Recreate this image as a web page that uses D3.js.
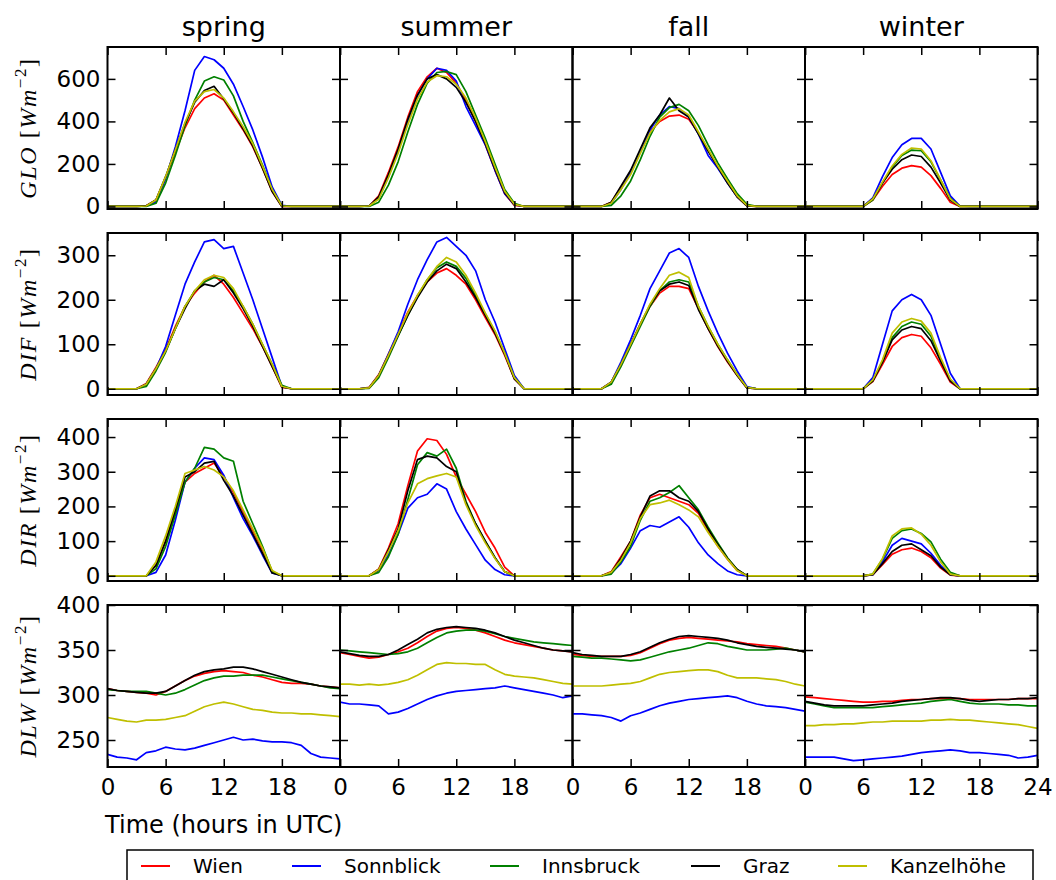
<!DOCTYPE html>
<html><head><meta charset="utf-8">
<script src="https://cdn.jsdelivr.net/npm/d3@7"></script>
<style>body{margin:0;background:#fff}svg{display:block}</style>
</head><body><svg id="c" width="1056" height="880"></svg>
<script>
const seasons = ["spring","summer","fall","winter"];
const stations = ["Wien","Sonnblick","Innsbruck","Graz","Kanzelhöhe"];
const stationColors = ["#ff0000","#0000ff","#008000","#000000","#bfbf00"];
const hours = [0,1,2,3,4,5,6,7,8,9,10,11,12,13,14,15,16,17,18,19,20,21,22,23,24];
const xTickValues = [0,6,12,18,24];
const variables = ["GLO","DIF","DIR","DLW"];
const yDomains = [[-12,750],[-14,350],[-15,452],[220,400]];
const yTickValues = [[0,200,400,600],[0,100,200,300],[0,100,200,300,400],[250,300,350,400]];

// order of each list: Wien, Sonnblick, Innsbruck, Graz, Kanzelhöhe
const GLO_spring = [
 [0,0,0,0,3,30,135,255,370,460,510,530,500,430,360,280,180,70,0,0,0,0,0,0,0],
 [0,0,0,0,2,20,130,280,450,640,705,690,650,575,470,360,232,92,5,0,0,0,0,0,0],
 [0,0,0,0,0,15,110,240,380,500,590,610,595,520,400,300,195,80,3,0,0,0,0,0,0],
 [0,0,0,0,3,30,140,265,390,490,545,565,505,440,365,285,180,70,0,0,0,0,0,0,0],
 [0,0,0,0,2,30,140,265,395,495,540,550,510,445,375,295,190,80,2,0,0,0,0,0,0]];
const GLO_summer = [
 [0,0,0,2,50,160,280,420,540,610,650,630,580,500,400,290,170,60,5,0,0,0,0,0,0],
 [0,0,0,2,40,140,260,400,520,600,650,640,590,470,380,290,170,60,8,0,0,0,0,0,0],
 [0,0,0,0,20,100,210,350,480,580,630,635,620,540,430,320,200,80,15,0,0,0,0,0,0],
 [0,0,0,2,45,150,270,410,525,600,620,600,560,490,400,295,175,65,8,0,0,0,0,0,0],
 [0,0,0,2,35,135,250,385,505,585,615,610,575,510,415,305,185,72,10,0,0,0,0,0,0]];
const GLO_fall = [
 [0,0,0,0,20,90,165,260,350,400,425,430,410,345,265,185,115,45,3,0,0,0,0,0,0],
 [0,0,0,0,15,80,160,260,360,430,470,460,420,340,240,180,110,45,5,0,0,0,0,0,0],
 [0,0,0,0,5,50,120,220,330,420,465,480,450,380,290,205,130,60,10,0,0,0,0,0,0],
 [0,0,0,0,20,95,170,270,370,430,510,450,420,340,260,185,110,45,3,0,0,0,0,0,0],
 [0,0,0,0,15,80,150,250,345,405,445,460,430,350,270,190,120,50,5,0,0,0,0,0,0]];
const GLO_winter = [
 [0,0,0,0,0,0,0,30,95,150,180,192,185,145,85,20,0,0,0,0,0,0,0,0,0],
 [0,0,0,0,0,0,0,40,140,230,290,320,320,270,160,50,2,0,0,0,0,0,0,0,0],
 [0,0,0,0,0,0,0,30,110,185,240,265,262,210,125,38,0,0,0,0,0,0,0,0,0],
 [0,0,0,0,0,0,0,35,110,175,220,242,235,185,110,30,0,0,0,0,0,0,0,0,0],
 [0,0,0,0,0,0,0,35,115,190,245,275,270,215,125,35,0,0,0,0,0,0,0,0,0]];
const DIF_spring = [
 [0,0,0,0,12,48,88,140,185,215,240,255,235,205,170,135,95,50,3,0,0,0,0,0,0],
 [0,0,0,0,10,45,95,165,235,285,330,335,315,320,260,200,135,70,5,0,0,0,0,0,0],
 [0,0,0,0,5,40,82,135,185,220,240,250,245,220,185,145,100,55,8,0,0,0,0,0,0],
 [0,0,0,0,10,45,85,135,180,220,235,230,245,215,180,140,95,50,4,0,0,0,0,0,0],
 [0,0,0,0,10,45,85,135,185,220,245,255,250,225,185,145,100,55,5,0,0,0,0,0,0]];
const DIF_summer = [
 [0,0,0,3,32,78,125,172,210,240,260,270,255,235,200,160,122,75,22,0,0,0,0,0,0],
 [0,0,0,2,30,78,128,190,245,290,330,340,320,300,265,200,150,90,30,0,0,0,0,0,0],
 [0,0,0,1,25,70,118,165,208,245,272,285,275,248,210,168,128,80,25,0,0,0,0,0,0],
 [0,0,0,2,30,75,120,165,205,240,265,280,270,240,205,165,125,78,22,0,0,0,0,0,0],
 [0,0,0,2,30,75,122,170,210,245,275,295,285,255,215,170,130,80,25,0,0,0,0,0,0]];
const DIF_fall = [
 [0,0,0,0,15,55,100,145,185,215,230,230,225,180,135,95,60,30,2,0,0,0,0,0,0],
 [0,0,0,0,15,60,110,165,225,265,305,315,295,230,175,125,80,40,5,0,0,0,0,0,0],
 [0,0,0,0,10,50,95,140,185,220,240,245,240,185,140,100,65,32,3,0,0,0,0,0,0],
 [0,0,0,0,15,55,100,145,188,220,235,240,232,178,135,96,62,30,2,0,0,0,0,0,0],
 [0,0,0,0,15,55,100,145,190,225,255,262,250,185,140,100,65,32,3,0,0,0,0,0,0]];
const DIF_winter = [
 [0,0,0,0,0,0,0,16,55,95,115,122,118,92,55,15,0,0,0,0,0,0,0,0,0],
 [0,0,0,0,0,0,0,25,100,175,200,212,200,165,100,35,0,0,0,0,0,0,0,0,0],
 [0,0,0,0,0,0,0,18,62,115,140,150,145,118,66,20,0,0,0,0,0,0,0,0,0],
 [0,0,0,0,0,0,0,18,60,110,132,140,135,108,62,18,0,0,0,0,0,0,0,0,0],
 [0,0,0,0,0,0,0,20,65,125,150,158,152,125,70,22,0,0,0,0,0,0,0,0,0]];
const DIR_spring = [
 [0,0,0,0,0,30,100,185,270,295,310,325,285,240,185,130,75,12,0,0,0,0,0,0,0],
 [0,0,0,0,0,10,60,160,270,310,340,335,290,225,165,115,60,8,0,0,0,0,0,0,0],
 [0,0,0,0,0,20,85,175,270,310,370,365,340,330,215,150,85,12,0,0,0,0,0,0,0],
 [0,0,0,0,0,30,100,190,285,300,325,330,275,230,175,120,65,8,0,0,0,0,0,0,0],
 [0,0,0,0,0,40,115,200,295,305,315,305,285,245,190,135,80,15,0,0,0,0,0,0,0]];
const DIR_summer = [
 [0,0,0,0,20,80,150,260,360,395,390,350,285,235,185,125,80,25,0,0,0,0,0,0,0],
 [0,0,0,0,15,60,120,195,225,235,265,250,185,135,90,45,18,3,0,0,0,0,0,0,0],
 [0,0,0,0,10,55,120,220,320,355,345,365,310,215,150,100,52,12,0,0,0,0,0,0,0],
 [0,0,0,0,18,75,135,245,335,345,340,315,300,210,150,100,52,12,0,0,0,0,0,0,0],
 [0,0,0,0,18,70,130,210,265,280,288,295,285,205,145,95,50,12,0,0,0,0,0,0,0]];
const DIR_fall = [
 [0,0,0,0,12,55,100,175,225,235,225,215,205,180,130,85,48,15,0,0,0,0,0,0,0],
 [0,0,0,0,8,35,80,130,145,140,155,170,140,95,60,35,14,3,0,0,0,0,0,0,0],
 [0,0,0,0,5,40,85,160,215,225,240,260,225,190,140,95,52,18,0,0,0,0,0,0,0],
 [0,0,0,0,10,50,100,170,230,245,245,225,215,185,135,90,50,18,0,0,0,0,0,0,0],
 [0,0,0,0,10,45,95,165,205,210,218,205,190,170,125,85,48,15,0,0,0,0,0,0,0]];
const DIR_winter = [
 [0,0,0,0,0,0,0,3,32,62,75,80,70,52,22,2,0,0,0,0,0,0,0,0,0],
 [0,0,0,0,0,0,0,3,40,88,108,100,92,65,30,3,0,0,0,0,0,0,0,0,0],
 [0,0,0,0,0,0,0,5,48,108,130,135,122,98,48,10,0,0,0,0,0,0,0,0,0],
 [0,0,0,0,0,0,0,3,35,70,88,92,75,58,25,3,0,0,0,0,0,0,0,0,0],
 [0,0,0,0,0,0,0,5,50,115,135,138,120,88,40,5,0,0,0,0,0,0,0,0,0]];
const DLW_spring = [
 [307,305,304,303,302,300,304,310,316,321,324,326,327,326,325,322,320,317,314,313,313,312,310,309,308],
 [234,231,230,228,236,238,242,240,239,241,244,247,250,253,250,251,249,248,248,247,244,235,231,230,229],
 [306,305,304,304,304,302,300,302,306,311,316,319,321,321,322,322,322,320,318,316,314,312,310,308,307],
 [307,305,304,303,302,302,304,310,316,322,326,328,329,331,331,329,326,323,320,317,314,312,310,309,308],
 [275,273,271,270,272,272,273,275,277,282,287,290,292,290,287,284,283,281,280,280,279,279,278,277,276]];
const DLW_summer = [
 [347,345,343,341,342,345,348,352,358,365,371,374,375,374,372,369,365,361,358,356,354,352,350,349,348],
 [292,290,290,289,288,279,281,285,290,295,299,302,304,305,306,307,308,310,308,306,304,302,300,297,299],
 [350,349,348,347,346,345,346,348,352,358,364,369,371,372,372,371,368,365,363,361,359,358,357,356,355],
 [348,346,344,343,343,345,350,356,362,369,373,375,376,375,374,372,369,365,361,358,355,352,350,349,348],
 [312,312,311,312,311,312,314,317,322,328,334,336,335,335,334,334,328,323,321,320,319,317,315,313,312]];
const DLW_fall = [
 [345,344,343,343,343,343,344,347,352,357,361,363,364,363,362,361,360,359,357,356,355,354,352,350,348],
 [279,279,278,277,275,271,277,280,284,288,291,293,295,296,297,298,299,297,293,290,288,287,286,284,282],
 [343,342,341,341,340,339,338,339,342,345,348,350,352,355,358,357,354,352,350,350,350,351,352,350,348],
 [347,345,344,343,343,343,345,348,353,358,362,365,366,365,364,363,361,358,356,354,353,352,351,350,348],
 [310,310,310,310,311,312,313,315,319,323,325,326,327,328,328,326,322,319,319,319,318,317,315,312,310]];
const DLW_winter = [
 [298,297,296,295,294,293,292,292,293,293,294,295,295,296,296,296,296,295,295,295,295,295,296,296,296],
 [231,231,231,231,229,227,228,229,230,231,232,234,236,237,238,239,238,236,236,235,234,233,230,231,233],
 [292,290,288,286,286,286,286,286,287,288,289,290,291,293,294,295,293,291,290,290,290,289,289,288,288],
 [293,291,289,288,288,288,288,289,290,291,293,294,295,296,297,297,296,294,293,294,295,295,296,296,297],
 [266,266,267,267,268,268,269,270,270,271,271,271,271,272,272,273,272,272,271,270,269,268,267,265,263]];

const panelData = [
  [GLO_spring, GLO_summer, GLO_fall, GLO_winter],
  [DIF_spring, DIF_summer, DIF_fall, DIF_winter],
  [DIR_spring, DIR_summer, DIR_fall, DIR_winter],
  [DLW_spring, DLW_summer, DLW_fall, DLW_winter]];

// ---- layout ----
const svg = d3.select("#c");
const left0 = 107.5, panelW = 232.5, panelH = 162;
const rowTops = [47, 233, 419, 605];
const sans = "DejaVu Sans, sans-serif";
const tickLen = 8;

const defs = svg.append("defs");

variables.forEach((v, r) => {
  const y = d3.scaleLinear().domain(yDomains[r]).range([rowTops[r] + panelH, rowTops[r]]);
  seasons.forEach((s, c) => {
    const x0 = left0 + c * panelW;
    const x = d3.scaleLinear().domain([0, 24]).range([x0, x0 + panelW]);
    const id = `clip${r}${c}`;
    defs.append("clipPath").attr("id", id).append("rect")
      .attr("x", x0).attr("y", rowTops[r]).attr("width", panelW).attr("height", panelH);
    const g = svg.append("g");
    const lines = g.append("g").attr("clip-path", `url(#${id})`);
    const line = d3.line().x(d => x(d[0])).y(d => y(d[1]));
    panelData[r][c].forEach((vals, si) => {
      lines.append("path")
        .datum(hours.map((h, i) => [h, vals[i]]))
        .attr("d", line)
        .attr("fill", "none")
        .attr("stroke", stationColors[si])
        .attr("stroke-width", 1.7)
        .attr("stroke-linejoin", "round");
    });

    // axes (inward ticks on all sides)
    const styleAxis = sel => {
      sel.select(".domain").remove();
      sel.selectAll(".tick line").attr("stroke", "#000").attr("stroke-width", 1.5);
      sel.selectAll(".tick text").attr("font-family", sans).attr("font-size", 23).attr("fill", "#000");
    };
    const bottomFmt = t => (r === 3 && (t < 24 || c === 3)) ? String(t) : "";
    g.append("g").attr("transform", `translate(0,${rowTops[r] + panelH})`)
      .call(d3.axisBottom(x).tickValues(xTickValues).tickSize(-tickLen).tickPadding(12).tickFormat(bottomFmt))
      .call(styleAxis);
    g.append("g").attr("transform", `translate(0,${rowTops[r]})`)
      .call(d3.axisTop(x).tickValues(xTickValues).tickSize(-tickLen).tickFormat(""))
      .call(styleAxis);
    g.append("g").attr("transform", `translate(${x0},0)`)
      .call(d3.axisLeft(y).tickValues(yTickValues[r]).tickSize(-tickLen).tickPadding(7)
        .tickFormat(c === 0 ? d3.format("d") : () => ""))
      .call(styleAxis);
    g.append("g").attr("transform", `translate(${x0 + panelW},0)`)
      .call(d3.axisRight(y).tickValues(yTickValues[r]).tickSize(-tickLen).tickFormat(""))
      .call(styleAxis);

    g.append("rect").attr("x", x0).attr("y", rowTops[r]).attr("width", panelW).attr("height", panelH)
      .attr("fill", "none").attr("stroke", "#000").attr("stroke-width", 2);

    if (r === 0) {
      svg.append("text").attr("x", x0 + panelW / 2).attr("y", 36)
        .attr("text-anchor", "middle").attr("font-family", sans).attr("font-size", 27)
        .text(s);
    }
  });

  // y label (math-style)
  const cy = rowTops[r] + panelH / 2;
  const t = svg.append("text")
    .attr("transform", `translate(36,${cy}) rotate(-90)`)
    .attr("text-anchor", "middle")
    .attr("font-family", "Liberation Serif, DejaVu Serif, serif")
    .attr("font-size", 24).attr("letter-spacing", 1.6);
  t.append("tspan").attr("font-style", "italic").text(v);
  t.append("tspan").text(" [");
  t.append("tspan").attr("font-style", "italic").text("Wm");
  t.append("tspan").attr("dy", -10).attr("font-size", 17).text("\u22122");
  t.append("tspan").attr("dy", 10).text("]");
});

// x axis label
svg.append("text").attr("x", left0 + panelW / 2).attr("y", 833)
  .attr("text-anchor", "middle").attr("font-family", sans).attr("font-size", 24)
  .text("Time (hours in UTC)");

// legend
const legend = svg.append("g");
legend.append("rect").attr("x", 127).attr("y", 850).attr("width", 906).attr("height", 45)
  .attr("fill", "#fff").attr("stroke", "#000").attr("stroke-width", 1.5);
const legendX = [141, 292, 490, 691, 838];
stations.forEach((name, i) => {
  legend.append("line").attr("x1", legendX[i]).attr("x2", legendX[i] + 29)
    .attr("y1", 866).attr("y2", 866).attr("stroke", stationColors[i]).attr("stroke-width", 2);
  legend.append("text").attr("x", legendX[i] + 52).attr("y", 873)
    .attr("font-family", sans).attr("font-size", 20).text(name);
});
</script></body></html>
